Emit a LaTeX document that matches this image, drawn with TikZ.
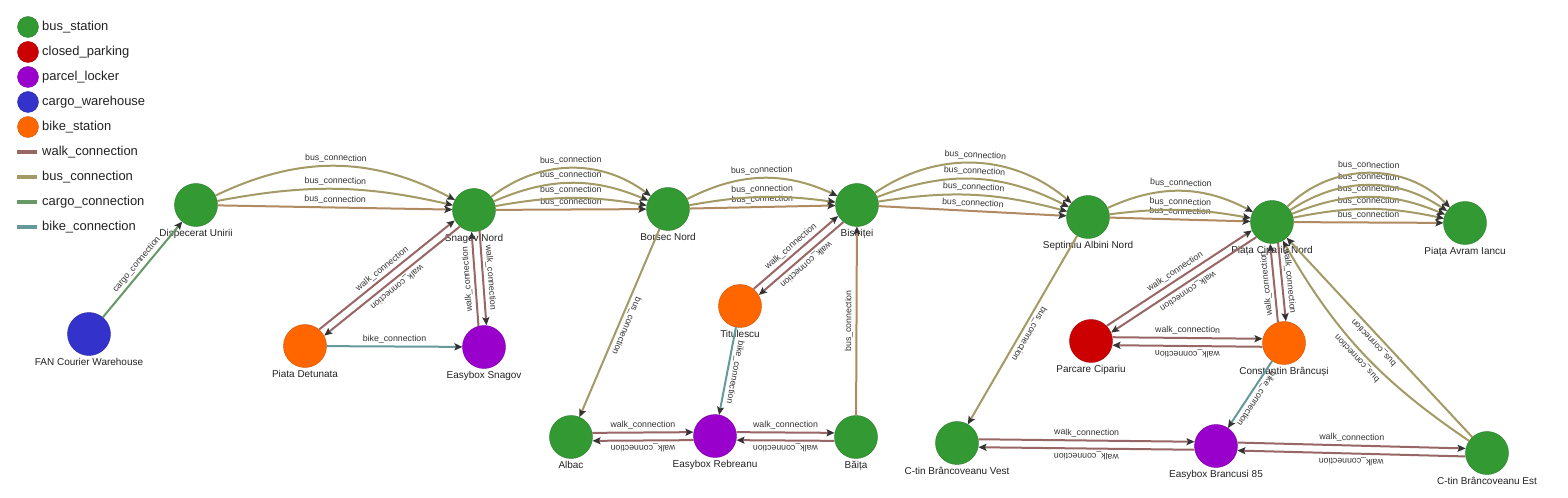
\documentclass[tikz,border=0pt]{standalone}
\usepackage{fontspec}
\setmainfont{Liberation Sans}
\usetikzlibrary{arrows.meta,calc}
\definecolor{cgreen}{HTML}{339933}
\definecolor{cred}{HTML}{CC0000}
\definecolor{cpurple}{HTML}{9900CC}
\definecolor{cblue}{HTML}{3333CC}
\definecolor{corange}{HTML}{FF6600}
\definecolor{cwalk}{HTML}{996666}
\definecolor{cbus}{HTML}{A39A66}
\definecolor{cbusS}{HTML}{B08A60}
\definecolor{ccargo}{HTML}{669966}
\definecolor{cbike}{HTML}{669999}
\definecolor{ctext}{HTML}{222222}
\definecolor{carrow}{HTML}{333333}
\tikzset{
 stn/.style={circle, minimum size=43bp, inner sep=0pt, outer sep=0pt, fill=#1, draw=#1!80!black, line width=0.4bp},
 every label/.style={font=\fontsize{10}{12}\selectfont, text=ctext, inner sep=2.5bp},
 con/.style={line width=2bp, -{Stealth[length=8bp,width=7bp,inset=1.5bp,color=carrow]}},
 walkc/.style={con, draw=cwalk},
 busc/.style={con, draw=cbus},
 busS/.style={con, draw=cbusS},
 cargoc/.style={con, draw=ccargo},
 bikec/.style={con, draw=cbike},
 lab/.style={font=\fontsize{8.8}{10}\selectfont, text=carrow, sloped, allow upside down, above, inner sep=2.5bp},
 off/.style={shorten <=21.5bp, shorten >=21.5bp},
 legtext/.style={anchor=west, font=\fontsize{13}{15}\selectfont, text=ctext, inner sep=0pt},
}
\newcommand\owalk[2]{\draw[walkc,off] ($(#1)!4bp!90:(#2)$) -- node[lab]{walk\_connection} ($(#2)!4bp!-90:(#1)$);}
\begin{document}
\begin{tikzpicture}[x=1bp,y=-1bp]
\useasboundingbox[fill=white] (0,0) rectangle (1568,498);
% legend
\foreach \i/\yy/\c/\t in {1/27/cgreen/bus\_station, 2/52/cred/closed\_parking, 3/77/cpurple/parcel\_locker, 4/102/cblue/cargo\_warehouse, 5/127/corange/bike\_station}{
  \node[stn=\c, minimum size=21bp] (lc\i) at (28,\yy) {};
  \node[legtext] (lt\i) at (42,\yy) {\t};
}
\foreach \i/\yy/\c/\t in {6/152/cwalk/walk\_connection, 7/177/cbus/bus\_connection, 8/202/ccargo/cargo\_connection, 9/227/cbike/bike\_connection}{
  \draw[\c, line width=4bp] (17,\yy) -- (37,\yy);
  \node[legtext] (lt\i) at (42,\yy) {\t};
}
% nodes
\node[stn=cgreen, label=below:{Dispecerat Unirii}] (disp) at (196,205) {};
\node[stn=cblue, label=below:{FAN Courier Warehouse}] (fan) at (89,334) {};
\node[stn=cgreen, label=below:{Snagov Nord}] (snag) at (474,210) {};
\node[stn=corange, label=below:{Piata Detunata}] (detu) at (305,346) {};
\node[stn=cpurple, label=below:{Easybox Snagov}] (ebsn) at (484,347) {};
\node[stn=cgreen, label=below:{Borsec Nord}] (bors) at (668,209) {};
\node[stn=cgreen, label=below:{Albac}] (albac) at (571,437) {};
\node[stn=cpurple, label=below:{Easybox Rebreanu}] (ebreb) at (715,436) {};
\node[stn=corange, label=below:{Titulescu}] (titu) at (740,306) {};
\node[stn=cgreen, label=below:{Bistriței}] (bist) at (857,205) {};
\node[stn=cgreen, label=below:{Băița}] (baita) at (856,437) {};
\node[stn=cgreen, label=below:{Septimiu Albini Nord}] (sept) at (1088,217) {};
\node[stn=cgreen, label=below:{Piața Cipariu Nord}] (cipn) at (1272,222) {};
\node[stn=cgreen, label=below:{Piața Avram Iancu}] (avram) at (1465,223) {};
\node[stn=cred, label=below:{Parcare Cipariu}] (parc) at (1091,341) {};
\node[stn=corange, label=below:{Constantin Brâncuși}] (brnc) at (1284,343) {};
\node[stn=cgreen, label=below:{C-tin Brâncoveanu Vest}] (vest) at (957,443) {};
\node[stn=cpurple, label=below:{Easybox Brancusi 85}] (eb85) at (1216,446) {};
\node[stn=cgreen, label=below:{C-tin Brâncoveanu Est}] (est) at (1487,453) {};
% cargo
\draw[cargoc] (fan) -- node[lab]{cargo\_connection} (disp);
% bus chain
\draw[busS] (disp) -- node[lab]{bus\_connection} (snag);
\foreach \b in {11.8,26.8}{\draw[busc] (disp) to[bend left=\b] node[lab]{bus\_connection} (snag);}
\draw[busS] (snag) -- node[lab]{bus\_connection} (bors);
\foreach \b in {10,23.3,37.2}{\draw[busc] (snag) to[bend left=\b] node[lab]{bus\_connection} (bors);}
\draw[busS] (bors) -- node[lab]{bus\_connection} (bist);
\foreach \b in {8.9,26.1}{\draw[busc] (bors) to[bend left=\b] node[lab]{bus\_connection} (bist);}
\draw[busS] (bist) -- node[lab]{bus\_connection} (sept);
\foreach \b in {12,24.3,37.2}{\draw[busc] (bist) to[bend left=\b] node[lab]{bus\_connection} (sept);}
\draw[busS] (sept) -- node[lab]{bus\_connection} (cipn);
\foreach \b in {8.7,26.3}{\draw[busc] (sept) to[bend left=\b] node[lab]{bus\_connection} (cipn);}
\draw[busS] (cipn) -- node[lab]{bus\_connection} (avram);
\foreach \b in {11.8,22.5,33.5,45.3}{\draw[busc] (cipn) to[bend left=\b] node[lab]{bus\_connection} (avram);}
% other bus
\draw[busc] (bors) -- node[lab]{bus\_connection} (albac);
\draw[busS] (baita) -- node[lab]{bus\_connection} (bist);
\draw[busc] (sept) -- node[lab]{bus\_connection} (vest);
\draw[busc] (est) -- node[lab]{bus\_connection} (cipn);
\draw[busc] (est) to[bend left=13] node[lab]{bus\_connection} (cipn);
% bike
\draw[bikec] (detu) -- node[lab]{bike\_connection} (ebsn);
\draw[bikec] (titu) -- node[lab]{bike\_connection} (ebreb);
\draw[bikec] (brnc) -- node[lab]{bike\_connection} (eb85);
% walk
\owalk{detu}{snag}
\owalk{snag}{detu}
\owalk{snag}{ebsn}
\owalk{ebsn}{snag}
\owalk{titu}{bist}
\owalk{bist}{titu}
\owalk{albac}{ebreb}
\owalk{ebreb}{albac}
\owalk{ebreb}{baita}
\owalk{baita}{ebreb}
\owalk{parc}{cipn}
\owalk{cipn}{parc}
\owalk{parc}{brnc}
\owalk{brnc}{parc}
\owalk{cipn}{brnc}
\owalk{brnc}{cipn}
\owalk{vest}{eb85}
\owalk{eb85}{vest}
\owalk{eb85}{est}
\owalk{est}{eb85}
\end{tikzpicture}
\end{document}
